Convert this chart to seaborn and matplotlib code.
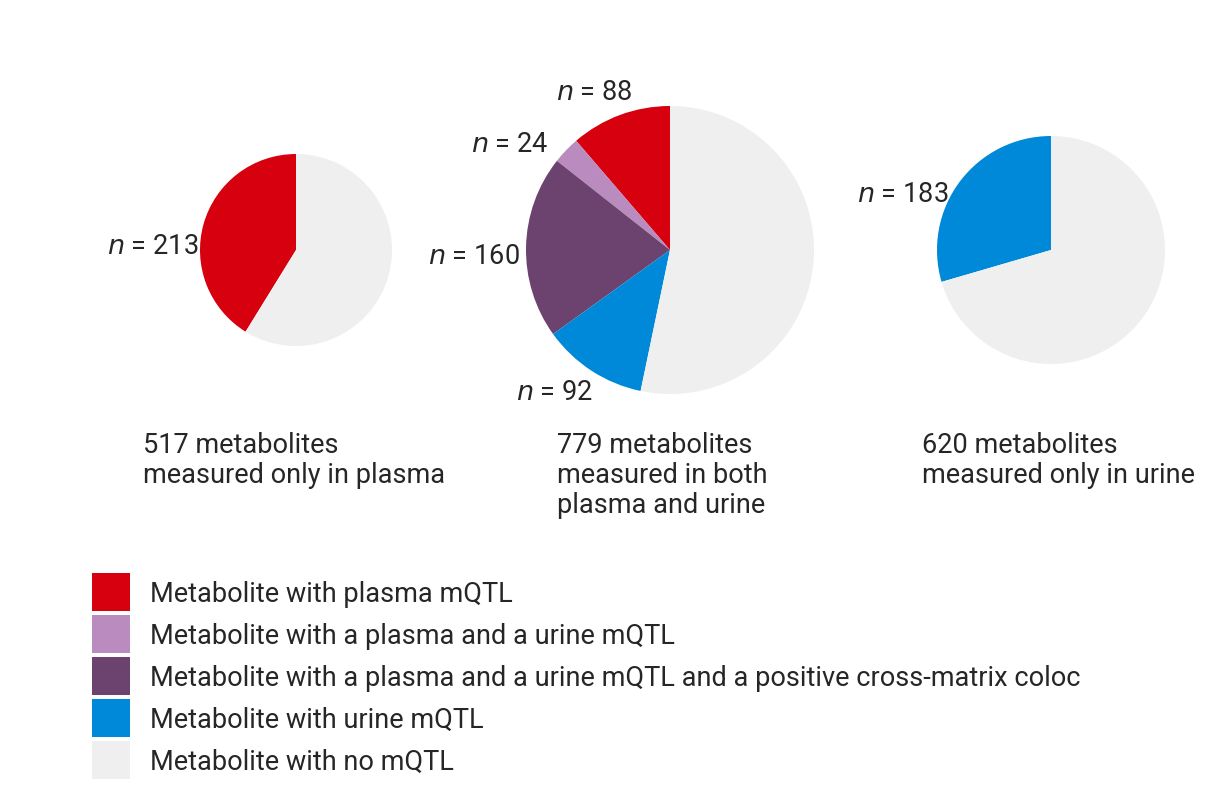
import matplotlib
matplotlib.use("Agg")
import matplotlib.pyplot as plt
import seaborn as sns

# data
plasma_only = [213, 517 - 213]
both = [88, 24, 160, 92, 779 - 88 - 24 - 160 - 92]
urine_only = [183, 620 - 183]
red = "#D7000F"
light_purple = "#B98BBE"
dark_purple = "#6B436E"
blue = "#0088D9"
grey = "#EFEFEF"
legend_labels = ["Metabolite with plasma mQTL",
                 "Metabolite with a plasma and a urine mQTL",
                 "Metabolite with a plasma and a urine mQTL and a positive cross-matrix coloc",
                 "Metabolite with urine mQTL",
                 "Metabolite with no mQTL"]
legend_colors = [red, light_purple, dark_purple, blue, grey]

sns.set_style("white")
plt.rcParams["font.family"] = "Roboto"
fig = plt.figure(figsize=(12.24, 8.08), dpi=100)
ax = fig.add_axes([0, 0, 1, 1])
ax.set_xlim(0, 1224)
ax.set_ylim(808, 0)
ax.set_aspect("equal")
ax.axis("off")

# pies (y axis inverted, so clockwise in data = counter-clockwise on screen)
kw = dict(startangle=-90, counterclock=False, wedgeprops=dict(linewidth=0))
ax.pie(plasma_only, colors=[red, grey], center=(296, 250), radius=96, **kw)
ax.pie(both, colors=[red, light_purple, dark_purple, blue, grey], center=(670, 250), radius=144, **kw)
ax.pie(urine_only, colors=[blue, grey], center=(1051, 250), radius=114, **kw)
ax.set_xlim(0, 1224)
ax.set_ylim(808, 0)

fs = 19.5
def nlabel(x, y, v):
    ax.text(x, y, r"$\it{n}$ = " + str(v), fontsize=fs, ha="left", va="center")

nlabel(107, 246, 213)
nlabel(556, 93, 88)
nlabel(471, 145, 24)
nlabel(428, 256, 160)
nlabel(516, 393, 92)
nlabel(857, 195, 183)

ax.text(143, 432, "517 metabolites\nmeasured only in plasma", fontsize=fs, va="top", linespacing=1.15)
ax.text(557, 432, "779 metabolites\nmeasured in both\nplasma and urine", fontsize=fs, va="top", linespacing=1.15)
ax.text(922, 432, "620 metabolites\nmeasured only in urine", fontsize=fs, va="top", linespacing=1.15)

for i, (lab, c) in enumerate(zip(legend_labels, legend_colors)):
    y = 573 + i * 42
    ax.add_patch(plt.Rectangle((92, y), 38, 38, color=c, linewidth=0))
    ax.text(150, y + 21, lab, fontsize=fs, va="center")

fig.savefig("out.png", dpi=100, facecolor="white")
